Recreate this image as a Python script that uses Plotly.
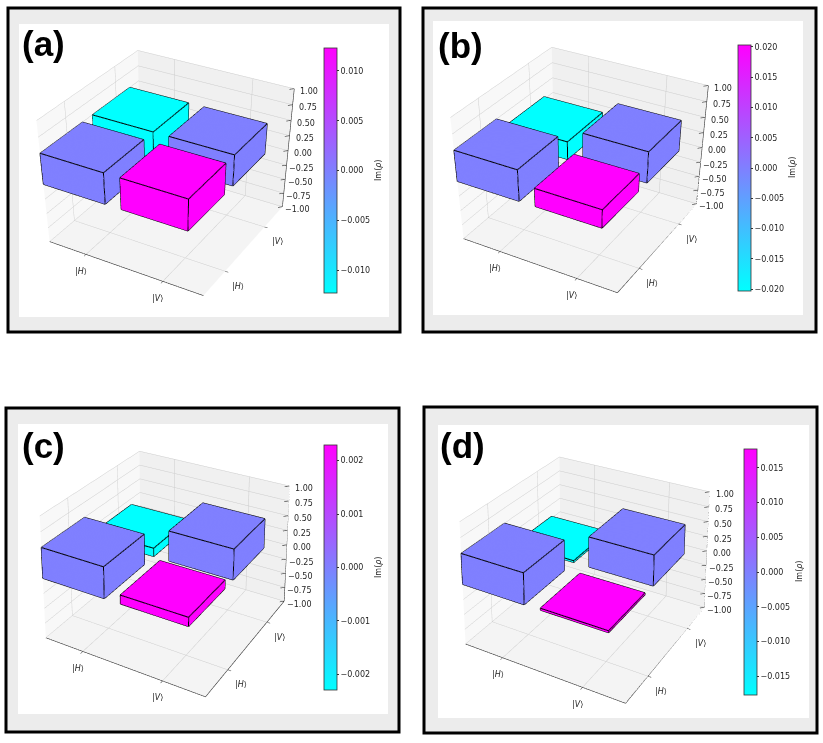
import numpy as np
import plotly.graph_objects as go

W, H = 823, 743
positions_x = [0, 1, 0, 1]
positions_y = [0, 0, 1, 1]
tick_pos = [0, 1]
tick_labels = ["|<i>H</i>⟩", "|<i>V</i>⟩"]
z_ticks = [-1, -0.75, -0.5, -0.25, 0, 0.25, 0.5, 0.75, 1]
panel_names = ["(a)", "(b)", "(c)", "(d)"]
# imaginary-part value of each bar: HH, VH, HV, VV
values_a = [0.0, 0.0123, -0.0123, 0.0]
values_b = [0.0, 0.0203, -0.0203, 0.0]
values_c = [0.0, 0.00229, -0.00229, 0.0]
values_d = [0.0, 0.0177, -0.0177, 0.0]
# drawn bar height of each bar
heights_a = [0.5, 0.5, 0.5, 0.5]
heights_b = [0.5, 0.29, 0.29, 0.5]
heights_c = [0.5, 0.14, 0.14, 0.5]
heights_d = [0.5, 0.03, 0.03, 0.5]
cbar_ticks_a = [-0.01, -0.005, 0, 0.005, 0.01]
cbar_ticks_b = [-0.02, -0.015, -0.01, -0.005, 0, 0.005, 0.01, 0.015, 0.02]
cbar_ticks_c = [-0.002, -0.001, 0, 0.001, 0.002]
cbar_ticks_d = [-0.015, -0.01, -0.005, 0, 0.005, 0.01, 0.015]

values = [values_a, values_b, values_c, values_d]
heights = [heights_a, heights_b, heights_c, heights_d]
cbar_ticks = [cbar_ticks_a, cbar_ticks_b, cbar_ticks_c, cbar_ticks_d]

frames = [(8, 8, 400, 332), (423, 8, 816, 332), (6, 408, 399, 732), (424, 407, 817, 733)]
inners = [(19, 24, 389, 317), (433, 21, 803, 315), (18, 424, 388, 714), (438, 425, 809, 718)]
box_centres = [(169, 167), (583, 164), (169, 561), (589, 567)]
cbar_tops = [(324, 48, 245), (738, 45, 246), (324, 445, 245), (744, 449, 246)]
cbar_title_pos = [(379, 171), (792, 168), (378, 568), (799, 572)]
label_pos = [(43, 44), (460, 45), (43, 445), (462, 446)]
BW = 0.8
HALF = 164
DIST = 5.14
ZASPECT = 0.75
az = np.radians(-60)
el = np.radians(30)

def direction(elev):
    return np.array([np.cos(elev) * np.cos(az), np.cos(elev) * np.sin(az), np.sin(elev)])

fig = go.Figure()
COOL = [[0, "#00ffff"], [1, "#ff00ff"]]
layout = {}
shapes, annots = [], []

for i in range(4):
    sid = "scene" if i == 0 else f"scene{i+1}"
    vx, vy, vz, vi, I, J, K = [], [], [], [], [], [], []
    ex, ey, ez = [], [], []
    for b in range(4):
        x0 = positions_x[b] - 0.5
        y0 = positions_y[b] - 0.5
        x1, y1 = x0 + BW, y0 + BW
        z0, z1 = 0.0, heights[i][b]
        n = len(vx)
        vx += [x0, x1, x1, x0, x0, x1, x1, x0]
        vy += [y0, y0, y1, y1, y0, y0, y1, y1]
        vz += [z0, z0, z0, z0, z1, z1, z1, z1]
        vi += [values[i][b]] * 8
        for t in [(0,1,2),(0,2,3),(4,5,6),(4,6,7),(0,1,5),(0,5,4),(1,2,6),(1,6,5),(2,3,7),(2,7,6),(3,0,4),(3,4,7)]:
            I.append(n + t[0]); J.append(n + t[1]); K.append(n + t[2])
        for a_, b_ in [(0,1),(1,2),(2,3),(3,0),(4,5),(5,6),(6,7),(7,4),(0,4),(1,5),(2,6),(3,7)]:
            ex += [vx[n + a_], vx[n + b_], None]
            ey += [vy[n + a_], vy[n + b_], None]
            ez += [vz[n + a_], vz[n + b_], None]
    cm = max(values[i])
    left, top, ln = cbar_tops[i]
    fig.add_trace(go.Mesh3d(
        x=vx, y=vy, z=vz, i=I, j=J, k=K, intensity=vi, intensitymode="vertex",
        colorscale=COOL, cmin=-cm, cmax=cm, flatshading=True, scene=sid,
        lighting=dict(ambient=1, diffuse=0, specular=0, fresnel=0, roughness=1),
        hoverinfo="skip",
        colorbar=dict(
            x=left / W, xanchor="left", y=1 - top / H, yanchor="top", xpad=0, ypad=0,
            lenmode="pixels", len=ln, thicknessmode="pixels", thickness=13,
            outlinewidth=0.8, outlinecolor="#333333", ticks="outside", ticklen=2, tickwidth=0.8,
            tickcolor="#333333", tickvals=cbar_ticks[i],
            ticktext=[f"{t:.3f}".replace("-", "−") for t in cbar_ticks[i]],
            tickfont=dict(family="DejaVu Sans", size=8, color="#262626"),
        ),
    ))
    fig.add_trace(go.Scatter3d(x=ex, y=ey, z=ez, mode="lines", line=dict(color="black", width=2),
                               hoverinfo="skip", showlegend=False, scene=sid))
    ax, ay, az_ = [], [], []
    ax += [-0.5, 1.5, None, 1.5, 1.5, None, 1.5, 1.5, None]
    ay += [-0.5, -0.5, None, -0.5, 1.5, None, 1.5, 1.5, None]
    az_ += [-1, -1, None, -1, -1, None, -1, 1, None]
    for t in z_ticks:
        ax += [1.5, 1.46, None]; ay += [1.5, 1.46, None]; az_ += [t, t, None]
    fig.add_trace(go.Scatter3d(x=ax, y=ay, z=az_, mode="lines", line=dict(color="#333333", width=1.2),
                               hoverinfo="skip", showlegend=False, scene=sid))
    scene_ann = []
    tf = dict(family="DejaVu Sans", size=8, color="#262626")
    for t, lab in zip(tick_pos, tick_labels):
        scene_ann.append(dict(x=t, y=-0.5, z=-1, text=lab, showarrow=False, font=tf, xshift=-5, yshift=-17))
        scene_ann.append(dict(x=1.5, y=t, z=-1, text=lab, showarrow=False, font=tf, xshift=13, yshift=-15))
    for t in z_ticks:
        scene_ann.append(dict(x=1.5, y=1.5, z=t, text=f"{t:.2f}".replace("-", "−"), showarrow=False, font=tf, xshift=15, yshift=-3))
    cx, cy = box_centres[i]
    axis = dict(showgrid=True, gridcolor="#cccccc", gridwidth=1, showbackground=True,
                zeroline=False, showline=False, showticklabels=False, ticks="outside", ticklen=3, tickcolor="#333333", tickwidth=1,
                title="", showspikes=False)
    # camera sits on the line through the box centre at the wanted elevation, and tilts to put the box off-axis
    offset = H / 2 - cy
    tilt = np.arctan(2 * offset / H * np.tan(np.pi / 8))
    eye = DIST * direction(el)
    centre = eye - DIST * direction(el + tilt)
    layout[sid] = dict(
        domain=dict(x=[max(cx - HALF, 0) / W, (cx + HALF) / W], y=[0, 1]),
        xaxis=dict(axis, range=[-0.5, 1.5], tickvals=tick_pos, backgroundcolor="#f8f8f8"),
        yaxis=dict(axis, range=[-0.5, 1.5], tickvals=tick_pos, backgroundcolor="#f0f0f0"),
        zaxis=dict(axis, range=[-1, 1], tickvals=z_ticks, backgroundcolor="#f4f4f4", ticks=""),
        aspectmode="manual", aspectratio=dict(x=1, y=1, z=ZASPECT),
        camera=dict(projection=dict(type="perspective"), up=dict(x=0, y=0, z=1),
                    center=dict(x=centre[0], y=centre[1], z=centre[2]),
                    eye=dict(x=eye[0], y=eye[1], z=eye[2])),
        annotations=scene_ann, bgcolor="rgba(0,0,0,0)",
    )
    f = frames[i]; n_ = inners[i]
    shapes.append(dict(type="rect", xref="paper", yref="paper", x0=f[0] / W, x1=f[2] / W, y0=1 - f[1] / H, y1=1 - f[3] / H,
                       fillcolor="#ececec", line=dict(color="black", width=3), layer="below"))
    shapes.append(dict(type="rect", xref="paper", yref="paper", x0=n_[0] / W, x1=n_[2] / W, y0=1 - n_[1] / H, y1=1 - n_[3] / H,
                       fillcolor="white", line=dict(width=0), layer="below"))
    lx, ly = label_pos[i]
    annots.append(dict(xref="paper", yref="paper", x=lx / W, y=1 - ly / H, text=f"<b>{panel_names[i]}</b>", showarrow=False,
                       font=dict(family="Liberation Sans", size=35, color="black"), xanchor="center", yanchor="middle"))
    tx, ty = cbar_title_pos[i]
    annots.append(dict(xref="paper", yref="paper", x=tx / W, y=1 - ty / H, text="Im(<i>ρ</i>)", showarrow=False, textangle=-90,
                       font=dict(family="DejaVu Sans", size=8, color="#262626"), xanchor="center", yanchor="middle"))

fig.update_layout(width=W, height=H, margin=dict(l=0, r=0, t=0, b=0), paper_bgcolor="white", showlegend=False,
                  shapes=shapes, annotations=annots, **layout)
fig.write_html("out.html", config={"displayModeBar": False}, post_script="document.body.style.margin='0';")
